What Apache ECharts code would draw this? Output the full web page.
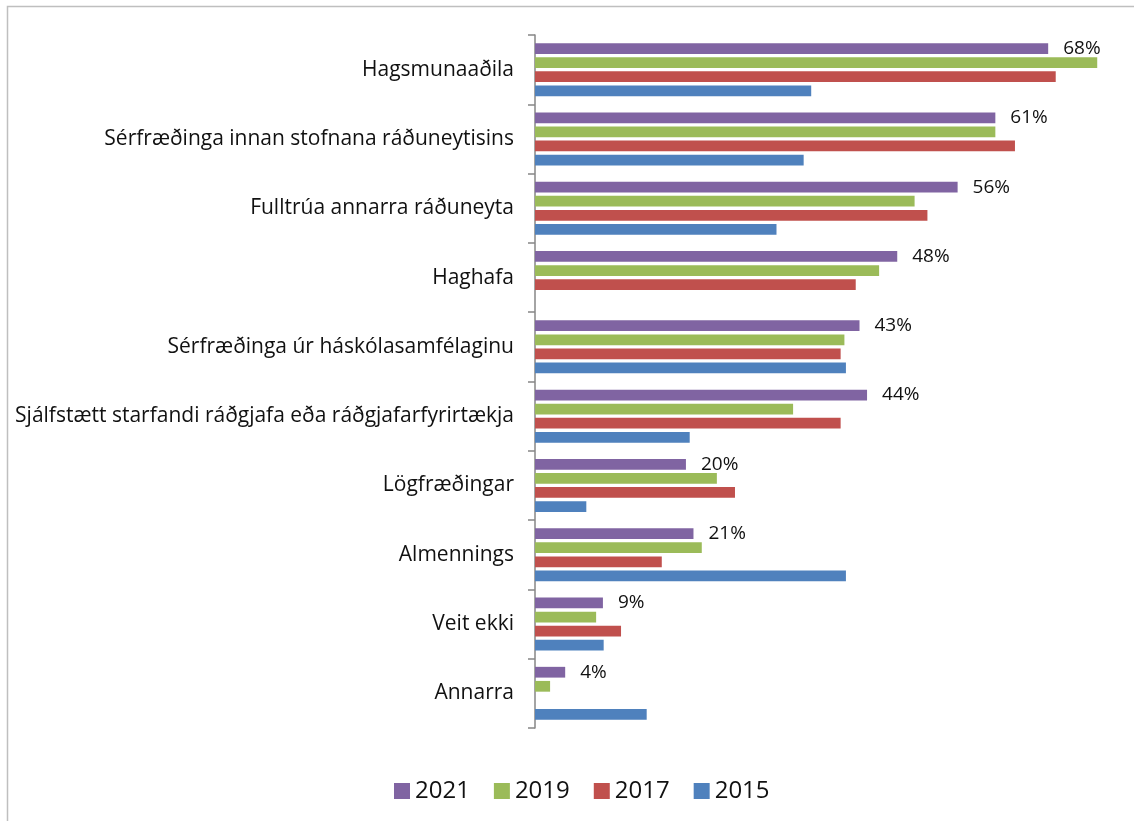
<!DOCTYPE html>
<html style="height: 100%">

<head>
  <meta charset="utf-8">
</head>

<body style="height: 100%; margin: 0; background: #fff">
  <div id="container" style="width: 1134px; height: 821px"></div>
  <script type="text/javascript" src="https://cdn.jsdelivr.net/npm/echarts@6/dist/echarts.min.js"></script>
  <script type="text/javascript">
    // flokkar, efst til neðst
    var categories = [
      'Hagsmunaaðila',
      'Sérfræðinga innan stofnana ráðuneytisins',
      'Fulltrúa annarra ráðuneyta',
      'Haghafa',
      'Sérfræðinga úr háskólasamfélaginu',
      'Sjálfstætt starfandi ráðgjafa eða ráðgjafarfyrirtækja',
      'Lögfræðingar',
      'Almennings',
      'Veit ekki',
      'Annarra'
    ];
    // gildi í %, lesin af myndinni
    var values2021 = [68, 61, 56, 48, 43, 44, 20, 21, 9, 4];
    var values2019 = [74.5, 61, 50.3, 45.6, 41, 34.2, 24.1, 22.1, 8.1, 2];
    var values2017 = [69, 63.6, 52, 42.5, 40.5, 40.5, 26.5, 16.8, 11.4, null];
    var values2015 = [36.6, 35.6, 32, null, 41.2, 20.5, 6.8, 41.2, 9.1, 14.8];

    var seriesNames = ['2021', '2019', '2017', '2015'];
    var seriesColors = ['#8064A2', '#9BBB59', '#C0504D', '#4F81BD'];
    var seriesValues = [values2021, values2019, values2017, values2015];

    var dom = document.getElementById("container");
    var myChart = echarts.init(dom);

    var series = [];
    seriesNames.forEach(function (name, i) {
      series.push({
        name: name,
        type: 'bar',
        data: seriesValues[i],
        barGap: '31%',
        barCategoryGap: '23.5%',
        itemStyle: { color: seriesColors[i] },
        animation: false,
        label: {
          show: i === 0,
          position: 'right',
          distance: 15,
          formatter: '{c}%',
          fontFamily: 'Open Sans',
          fontSize: 19,
          color: '#111'
        }
      });
    });

    var option = {
      backgroundColor: '#fff',
      graphic: [{
        type: 'rect',
        shape: { x: 7.5, y: 6.5, width: 1200, height: 900 },
        style: { fill: 'none', stroke: '#BFBFBF', lineWidth: 1.5 },
        silent: true
      }],
      legend: {
        data: seriesNames,
        left: 389,
        top: 774,
        icon: 'rect',
        itemWidth: 16,
        itemHeight: 16,
        itemGap: 24,
        textStyle: { fontFamily: 'Open Sans', fontSize: 24, color: '#111' }
      },
      grid: {
        left: 535,
        right: 33,
        top: 35,
        bottom: 93,
        containLabel: false
      },
      xAxis: {
        type: 'value',
        min: 0,
        max: 75,
        show: false
      },
      yAxis: {
        type: 'category',
        inverse: true,
        data: categories,
        axisLine: { show: true, lineStyle: { color: '#868686', width: 1.5 } },
        axisTick: { show: true, length: 7, lineStyle: { color: '#868686', width: 1.5 } },
        axisLabel: {
          margin: 21,
          fontFamily: 'Open Sans',
          fontSize: 21,
          color: '#111'
        }
      },
      series: series
    };
    myChart.setOption(option, true);
  </script>
</body>

</html>
